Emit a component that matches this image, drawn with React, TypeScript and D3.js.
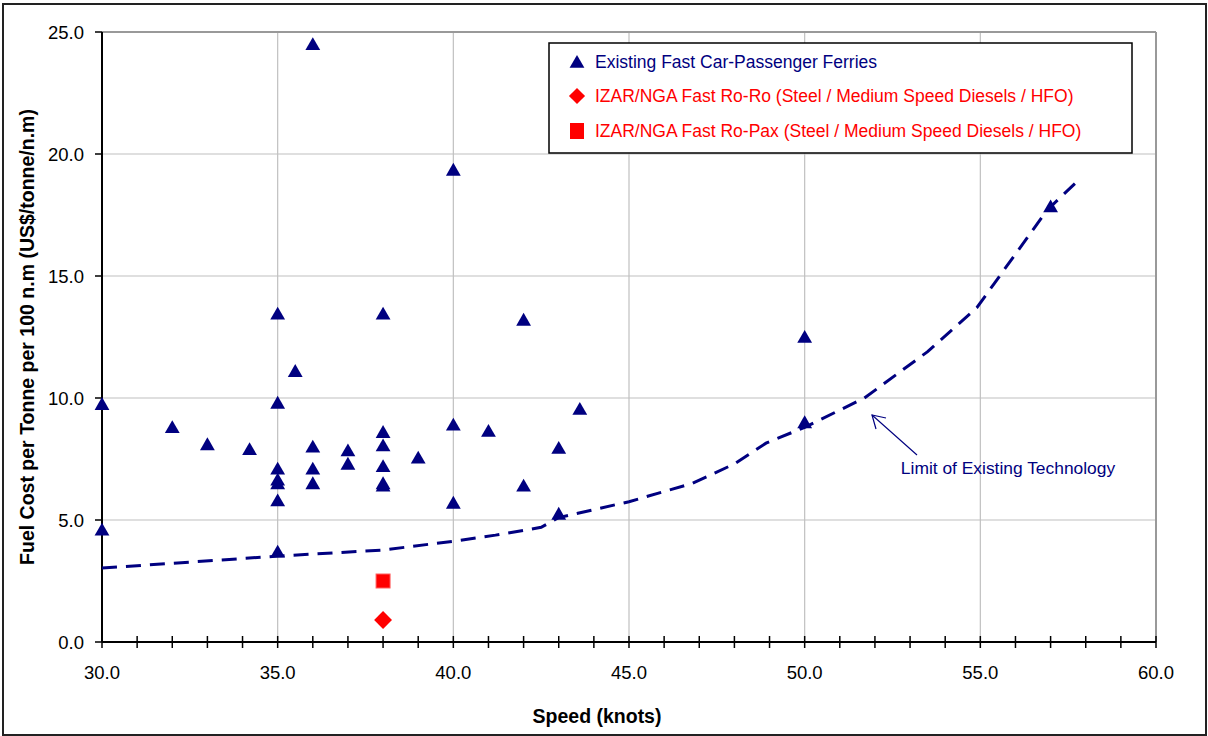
import React, { useEffect, useRef } from "react";
import * as d3 from "d3";

// Existing fast car-passenger ferries (speed in knots, fuel cost US$/tonne/100 n.m)
const ferrySpeed = [
  30, 30, 32, 33, 34.2, 35, 35, 35, 35, 35, 35, 35, 35.5, 36, 36, 36, 36, 37, 37,
  38, 38, 38, 38, 38, 38, 39, 40, 40, 40, 41, 42, 42, 43, 43, 43.6, 50, 50, 57,
];
const ferryCost = [
  9.75, 4.6, 8.8, 8.1, 7.9, 13.45, 9.8, 7.1, 6.65, 6.5, 5.8, 3.7, 11.1, 24.5, 8.0, 7.1, 6.5, 7.85, 7.3,
  13.45, 8.6, 8.05, 7.2, 6.5, 6.4, 7.55, 19.35, 8.9, 5.7, 8.65, 13.2, 6.4, 7.95, 5.25, 9.55, 12.5, 9.0, 17.85,
];

// IZAR/NGA designs
const roroSpeed = [38];
const roroCost = [0.9];
const ropaxSpeed = [38];
const ropaxCost = [2.5];

// Limit of existing technology (dashed curve)
const limitSpeed = [30, 35, 38, 40, 41.2, 42.5, 43, 45, 46.8, 48, 48.9, 50, 51.7, 53.5, 54.9, 55.4, 56.9, 57.7];
const limitCost = [3.03, 3.52, 3.77, 4.13, 4.38, 4.7, 5.1, 5.75, 6.5, 7.3, 8.15, 8.8, 10.0, 11.9, 13.7, 14.7, 17.7, 18.8];

const xTicks = [30, 35, 40, 45, 50, 55, 60];
const yTicks = [0, 5, 10, 15, 20, 25];

const legendLabels = [
  "Existing Fast Car-Passenger Ferries",
  "IZAR/NGA Fast Ro-Ro (Steel / Medium Speed Diesels / HFO)",
  "IZAR/NGA Fast Ro-Pax (Steel / Medium Speed Diesels / HFO)",
];

const NAVY = "#000080";
const RED = "#ff0000";
const FONT = "'Liberation Sans', Arial, sans-serif";

const App: React.FC = () => {
  const svgRef = useRef<SVGSVGElement>(null);

  useEffect(() => {
    if (!svgRef.current) return;
    const svg = d3.select(svgRef.current);
    svg.selectAll("*").remove();

    const left = 102;
    const right = 1156;
    const top = 32;
    const bottom = 642;

    const x = d3.scaleLinear().domain([30, 60]).range([left, right]);
    const y = d3.scaleLinear().domain([0, 25]).range([bottom, top]);

    // outer frame
    svg
      .append("rect")
      .attr("x", 3)
      .attr("y", 4)
      .attr("width", 1203)
      .attr("height", 731)
      .attr("fill", "white")
      .attr("stroke", "#222")
      .attr("stroke-width", 2);

    // gridlines
    const grid = svg.append("g").attr("stroke", "#c0c0c0").attr("stroke-width", 1.2);
    xTicks.slice(1).forEach((t) => {
      grid.append("line").attr("x1", x(t)).attr("x2", x(t)).attr("y1", top).attr("y2", bottom);
    });
    yTicks.slice(1).forEach((t) => {
      grid.append("line").attr("x1", left).attr("x2", right).attr("y1", y(t)).attr("y2", y(t));
    });
    svg
      .append("line")
      .attr("x1", left)
      .attr("x2", right)
      .attr("y1", top)
      .attr("y2", top)
      .attr("stroke", "#999")
      .attr("stroke-width", 2);
    svg
      .append("line")
      .attr("x1", right)
      .attr("x2", right)
      .attr("y1", top)
      .attr("y2", bottom)
      .attr("stroke", "#999")
      .attr("stroke-width", 2);

    // x axis: minor ticks every knot crossing the axis
    const xAxis = svg.append("g").attr("stroke", "black").attr("stroke-width", 1.5);
    d3.range(30, 61, 1).forEach((t) => {
      xAxis.append("line").attr("x1", x(t)).attr("x2", x(t)).attr("y1", bottom - 6).attr("y2", bottom + 6);
    });
    xAxis
      .append("line")
      .attr("x1", left)
      .attr("x2", right)
      .attr("y1", bottom)
      .attr("y2", bottom)
      .attr("stroke-width", 2);

    // y axis
    const yAxis = svg.append("g").attr("stroke", "black").attr("stroke-width", 1.5);
    yTicks.forEach((t) => {
      yAxis.append("line").attr("x1", left - 7).attr("x2", left).attr("y1", y(t)).attr("y2", y(t));
    });
    yAxis
      .append("line")
      .attr("x1", left)
      .attr("x2", left)
      .attr("y1", top)
      .attr("y2", bottom)
      .attr("stroke-width", 2);

    // tick labels
    svg
      .append("g")
      .selectAll("text")
      .data(xTicks)
      .join("text")
      .attr("x", (d) => x(d))
      .attr("y", 679)
      .attr("text-anchor", "middle")
      .attr("font-family", FONT)
      .attr("font-size", 18.5)
      .text((d) => d.toFixed(1));

    svg
      .append("g")
      .selectAll("text")
      .data(yTicks)
      .join("text")
      .attr("x", 84)
      .attr("y", (d) => y(d) + 6.5)
      .attr("text-anchor", "end")
      .attr("font-family", FONT)
      .attr("font-size", 18.5)
      .text((d) => d.toFixed(1));

    // axis titles
    svg
      .append("text")
      .attr("x", (left + right) / 2 - 32)
      .attr("y", 723)
      .attr("text-anchor", "middle")
      .attr("font-family", FONT)
      .attr("font-size", 19.5)
      .attr("font-weight", "bold")
      .text("Speed (knots)");

    svg
      .append("text")
      .attr("transform", `translate(34,${337}) rotate(-90)`)
      .attr("text-anchor", "middle")
      .attr("font-family", FONT)
      .attr("font-size", 19.5)
      .attr("font-weight", "bold")
      .text("Fuel Cost per Tonne per 100 n.m (US$/tonne/n.m)");

    // limit curve
    const line = d3
      .line<number>()
      .x((_, i) => x(limitSpeed[i]))
      .y((d) => y(d));
    svg
      .append("path")
      .attr("d", line(limitCost) as string)
      .attr("fill", "none")
      .attr("stroke", NAVY)
      .attr("stroke-width", 3)
      .attr("stroke-dasharray", "15,9");

    // markers
    const tri = d3.symbol().type(d3.symbolTriangle).size(95);
    svg
      .append("g")
      .selectAll("path")
      .data(ferryCost)
      .join("path")
      .attr("d", tri as any)
      .attr("transform", (d, i) => `translate(${x(ferrySpeed[i])},${y(d) + 1.5})`)
      .attr("fill", NAVY);

    svg
      .append("g")
      .selectAll("rect")
      .data(ropaxCost)
      .join("rect")
      .attr("x", (_, i) => x(ropaxSpeed[i]) - 7)
      .attr("y", (d) => y(d) - 7)
      .attr("width", 14)
      .attr("height", 14)
      .attr("fill", RED)
      .attr("stroke", "#ff6060")
      .attr("stroke-width", 1);

    const diamond = d3.symbol().type(d3.symbolSquare).size(160);
    svg
      .append("g")
      .selectAll("path")
      .data(roroCost)
      .join("path")
      .attr("d", diamond as any)
      .attr("transform", (d, i) => `translate(${x(roroSpeed[i])},${y(d)}) rotate(45)`)
      .attr("fill", RED);

    // annotation
    const ann = svg.append("g").attr("stroke", NAVY).attr("stroke-width", 1.2).attr("fill", "none");
    ann.append("line").attr("x1", 917).attr("y1", 455).attr("x2", 872).attr("y2", 415);
    ann.append("path").attr("d", "M876,429 L872,415 L886,418");
    svg
      .append("text")
      .attr("x", 1008)
      .attr("y", 474)
      .attr("text-anchor", "middle")
      .attr("font-family", FONT)
      .attr("font-size", 17.4)
      .attr("fill", NAVY)
      .text("Limit of Existing Technology");

    // legend
    const lg = svg.append("g");
    lg.append("rect")
      .attr("x", 549)
      .attr("y", 43)
      .attr("width", 583)
      .attr("height", 110)
      .attr("fill", "white")
      .attr("stroke", "black")
      .attr("stroke-width", 1.5);
    const rowY = [62, 96, 131];
    const rowColor = [NAVY, RED, RED];
    lg.append("path")
      .attr("d", tri as any)
      .attr("transform", `translate(577,${rowY[0] + 1.5})`)
      .attr("fill", NAVY);
    lg.append("path")
      .attr("d", d3.symbol().type(d3.symbolSquare).size(130)() as string)
      .attr("transform", `translate(577,${rowY[1]}) rotate(45)`)
      .attr("fill", RED);
    lg.append("rect")
      .attr("x", 570)
      .attr("y", rowY[2] - 8)
      .attr("width", 14)
      .attr("height", 16)
      .attr("fill", RED);
    lg.selectAll("text.lab")
      .data(legendLabels)
      .join("text")
      .attr("class", "lab")
      .attr("x", 595)
      .attr("y", (_, i) => rowY[i] + 6)
      .attr("font-family", FONT)
      .attr("font-size", 17.5)
      .attr("fill", (_, i) => rowColor[i])
      .text((d) => d);
  }, []);

  return (
    <svg
      ref={svgRef}
      width={1208}
      height={736}
      style={{ position: "absolute", left: 0, top: 0, background: "white" }}
    ></svg>
  );
};

export default App;
